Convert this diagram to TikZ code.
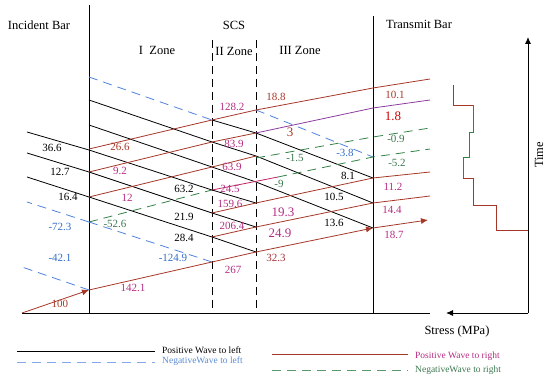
\documentclass[tikz,border=0pt]{standalone}
\usepackage{fontspec}
\setmainfont{Liberation Serif}
\usetikzlibrary{arrows.meta}
\definecolor{wred}{RGB}{165,55,40}
\definecolor{wpurple}{RGB}{140,60,160}
\definecolor{wblue}{RGB}{80,130,220}
\definecolor{wgreen}{RGB}{50,130,70}
\definecolor{lred}{RGB}{180,45,130}
\definecolor{lblue}{RGB}{50,110,200}
\definecolor{lgreen}{RGB}{60,120,80}
\tikzset{
  pwl/.style={black, line width=0.8pt},
  nwl/.style={wblue, line width=0.8pt, dash pattern=on 9pt off 6pt},
  pwr/.style={wred, line width=0.8pt},
  nwr/.style={wgreen, line width=0.8pt, dash pattern=on 9pt off 6pt},
  bar/.style={black, line width=0.9pt},
  zone/.style={black, line width=0.9pt, dash pattern=on 8pt off 5pt},
  title/.style={font=\fontsize{12.5}{14}\selectfont},
  num/.style={font=\fontsize{11}{12}\selectfont, inner sep=1pt},
  big/.style={font=\fontsize{13}{14}\selectfont},
  leg/.style={font=\fontsize{9.5}{10}\selectfont, anchor=west, inner sep=1pt}
}
\begin{document}
\begin{tikzpicture}[x=1pt, y=-1pt, >={Latex[length=7pt,width=6pt]}]
    \useasboundingbox (0,0) rectangle (550,382);

    % 1. bars and zone borders
    \draw[bar] (22,313) -- (430,313);
    \draw[bar] (89,5) -- (89,313);
    \draw[bar] (373,16) -- (373,313);
    \draw[zone] (212,40) -- (212,313);
    \draw[zone] (256,40) -- (256,313);

    \node[title] (inc) at (39,25) {Incident Bar};
    \node[title] (scs) at (234,25) {SCS};
    \node[title] (zi) at (157,50) {I\enspace Zone};
    \node[title] (zii) at (234,51) {II Zone};
    \node[title] (ziii) at (300,50) {III Zone};
    \node[title] (trb) at (419,24) {Transmit Bar};

    % 2. positive waves to left (black)
    \foreach \ya/\yb in {150/132, 172/153, 197/177}
        \draw[pwl] (89,\ya) -- (27,\yb);
    \foreach \ya/\yb in {100/142, 125/167, 150/190, 172/213, 197/237}
        \draw[pwl] (89,\ya) -- (212,\yb);
    \foreach \ya/\yb in {120/133, 142/156, 167/182, 190/203, 213/227, 237/252}
        \draw[pwl] (212,\ya) -- (256,\yb);
    \foreach \ya/\yb in {133/178, 156/203, 182/228}
        \draw[pwl] (256,\ya) -- (373,\yb);

    % 3. negative waves to left (blue)
    \draw[nwl] (89,77) -- (212,120);
    \draw[nwl] (89,222) -- (212,262);
    \draw[nwl] (89,222) -- (27,202);
    \draw[nwl] (89,290) -- (22,267);
    \draw[nwl] (256,110) -- (373,157);

    % 4. positive waves to right (red)
    \draw[pwr,->] (22,313) -- (89,290);
    \foreach \ya/\yb in {149/120, 172/142, 197/167, 290/262}
        \draw[pwr] (89,\ya) -- (212,\yb);
    \foreach \ya/\yb in {120/110, 142/133, 167/156, 213/203, 237/227, 262/252}
        \draw[pwr] (212,\ya) -- (256,\yb);
    \draw[lred!80!red, line width=0.8pt] (212,190) -- (278,177);
    \draw[pwr] (256,110) -- (373,88) -- (430,79);
    \draw[wpurple, line width=0.8pt] (256,133) -- (373,108) -- (430,100);
    \draw[pwr] (256,203) -- (373,178) -- (430,172);
    \draw[pwr] (256,227) -- (373,203) -- (430,196);
    \draw[pwr,->] (256,252) -- (373,228);
    \draw[pwr,->] (373,228) -- (428,220);

    % 5. negative waves to right (green)
    \draw[nwr] (89,222) -- (212,190);
    \draw[nwr] (278,177) -- (373,157) -- (430,149);
    \draw[nwr] (256,158) -- (373,137) -- (430,128);

    % 6. values
    \foreach \x/\y/\t in {52/148/36.6, 60/172/12.7, 68/197/16.4, 184/189/63.2,
        184/217/21.9, 184/238/28.4, 348/176/8.1, 334/197/10.5, 334/223/13.6}
        \node[num] at (\x,\y) {\t};
    \foreach \x/\y/\t in {60/227/-72.3, 60/258/-42.1, 173/258/-124.9, 345/153/-3.8}
        \node[num, lblue] at (\x,\y) {\t};
    \foreach \x/\y/\t in {115/224/-52.6, 295/158/-1.5, 279/184/-9, 396/139/-0.9, 397/163/-5.2}
        \node[num, lgreen] at (\x,\y) {\t};
    \foreach \x/\y/\t in {127/198/12, 120/171/9.2, 133/288/142.1, 232/107/128.2,
        234/144/83.9, 232/167/63.9, 230/189/24.5, 230/204/159.6, 232/226/206.4,
        233/270/267, 393/187/11.2, 392/210/14.4, 394/235/18.7}
        \node[num, lred] at (\x,\y) {\t};
    \node[num, lred, big] at (283,212) {19.3};
    \node[num, lred, big] at (280,233) {24.9};
    \node[num, wred!80!lred] at (276,258) {32.3};
    \node[num, wred] at (120,147) {26.6};
    \node[num, wred] at (276,97) {18.8};
    \node[num, wred, big] at (290,132) {3};
    \node[num, wred] at (395,95) {10.1};
    \node[num, red!80!black, big] at (393,116) {1.8};
    \node[num, wred] at (60,304) {100};

    % 7. stress history in the transmit bar
    \draw[wred, line width=0.8pt] (453,85) -- (453,105) -- (473,105);
    \draw[wgreen, line width=0.8pt] (473,105) -- (473,132) -- (469,132) -- (469,157)
        -- (463,157) -- (463,178);
    \draw[wred, line width=0.8pt] (463,178) -- (473,178) -- (473,205) -- (496,205)
        -- (496,230) -- (528,230);
    \draw[bar,->] (528,313) -- (528,37);
    \draw[bar,->] (528,313) -- (446,313);
    \node[title, rotate=90] (time) at (539,155) {Time};
    \node[title] (stress) at (457,331) {Stress (MPa)};

    % 8. legend
    \draw[pwl] (17,351) -- (155,351);
    \node[leg] at (161,350) {Positive Wave to left};
    \draw[nwl, wblue!70!white] (17,362) -- (155,362);
    \node[leg, lblue!80!white] at (161,361) {NegativeWave to left};
    \draw[pwr] (272,354) -- (408,354);
    \node[leg, lred] at (414,356) {Positive Wave to right};
    \draw[nwr, wgreen!80!white] (272,370) -- (408,370);
    \node[leg, lgreen] at (414,370) {NegativeWave to right};
\end{tikzpicture}
\end{document}
